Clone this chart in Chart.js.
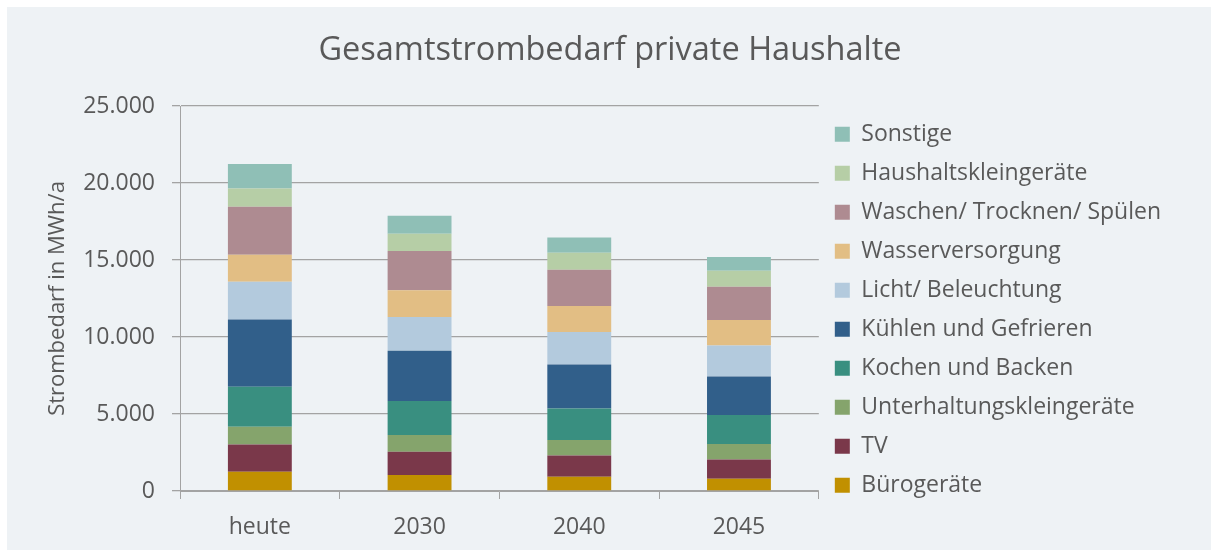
<!DOCTYPE html>
<html>
<head>
<meta charset="utf-8">
<script src="https://cdn.jsdelivr.net/npm/chart.js@4/dist/chart.umd.min.js"></script>
<style>
  html, body { margin: 0; padding: 0; background: #ffffff; }
  #wrap { position: absolute; left: 7px; top: 7px; width: 1204px; height: 543px; background: #eef2f5; }
</style>
</head>
<body>
<div id="wrap"><canvas id="myChart"></canvas></div>
<script>
// Werte in MWh/a
const categories = ['heute', '2030', '2040', '2045'];
const buerogeraete = [1250, 1040, 930, 800];
const tv = [1770, 1510, 1380, 1250];
const unterhaltung = [1150, 1080, 1000, 1000];
const kochen = [2600, 2210, 2050, 1880];
const kuehlen = [4370, 3270, 2860, 2510];
const licht = [2450, 2190, 2100, 2010];
const wasser = [1750, 1730, 1690, 1650];
const waschen = [3120, 2560, 2360, 2160];
const haushalt = [1190, 1120, 1100, 1040];
const sonstige = [1590, 1170, 990, 890];
const yTicks = [0, 5000, 10000, 15000, 20000, 25000];

const textColor = '#595959';
const gridColor = '#a3a3a3';
const font = 'Open Sans';

function fmt(v) {
  return String(v).replace(/\B(?=(\d{3})+(?!\d))/g, '.');
}

function ds(label, data, color) {
  return { label: label, data: data, backgroundColor: color, borderWidth: 0 };
}

new Chart('myChart', {
  type: 'bar',
  data: {
    labels: categories,
    datasets: [
      ds('Bürogeräte', buerogeraete, '#c19000'),
      ds('TV', tv, '#7a384a'),
      ds('Unterhaltungskleingeräte', unterhaltung, '#85a46c'),
      ds('Kochen und Backen', kochen, '#398f80'),
      ds('Kühlen und Gefrieren', kuehlen, '#315f8a'),
      ds('Licht/ Beleuchtung', licht, '#b3cadd'),
      ds('Wasserversorgung', wasser, '#e2be84'),
      ds('Waschen/ Trocknen/ Spülen', waschen, '#ae8b91'),
      ds('Haushaltskleingeräte', haushalt, '#b6cea6'),
      ds('Sonstige', sonstige, '#8fbfb6'),
    ],
  },
  options: {
    responsive: true,
    maintainAspectRatio: false,
    animation: false,
    categoryPercentage: 1,
    barPercentage: 0.4,
    layout: { padding: { top: 8, left: 42, right: 40, bottom: 2 } },
    plugins: {
      title: {
        display: true,
        text: 'Gesamtstrombedarf private Haushalte',
        color: textColor,
        font: { family: font, size: 32.5, weight: 'normal' },
        padding: { top: 16.5, bottom: 35.5 },
      },
      legend: {
        position: 'right',
        align: 'start',
        reverse: true,
        maxWidth: 420,
        // leerer Titel als Abstand nach oben
        title: { display: true, text: '', font: { size: 10, lineHeight: 1 }, padding: { top: 81.7, bottom: 0 } },
        labels: {
          boxWidth: 15,
          boxHeight: 15,
          padding: 16,
          color: textColor,
          font: { family: font, size: 23 },
        },
      },
      tooltip: { enabled: false },
    },
    scales: {
      x: {
        stacked: true,
        afterFit: (scale) => { scale.height = 57; },
        grid: { offset: true, drawOnChartArea: false, tickLength: 8, color: gridColor },
        border: { color: gridColor },
        ticks: { color: textColor, font: { family: font, size: 23 }, padding: 14.2 },
      },
      y: {
        stacked: true,
        min: 0,
        max: 25000,
        afterBuildTicks: (axis) => { axis.ticks = yTicks.map(v => ({ value: v })); },
        afterFit: (scale) => { scale.width = 131; },
        grid: { tickLength: 8, color: gridColor, lineWidth: 1.3 },
        border: { color: gridColor },
        ticks: { color: textColor, font: { family: font, size: 23 }, padding: 17, callback: (v) => fmt(v) },
        title: {
          display: true,
          text: 'Strombedarf in MWh/a',
          color: textColor,
          font: { family: font, size: 22 },
          padding: { top: -4.2, bottom: 0 },
        },
      },
    },
  },
});
</script>
</body>
</html>
